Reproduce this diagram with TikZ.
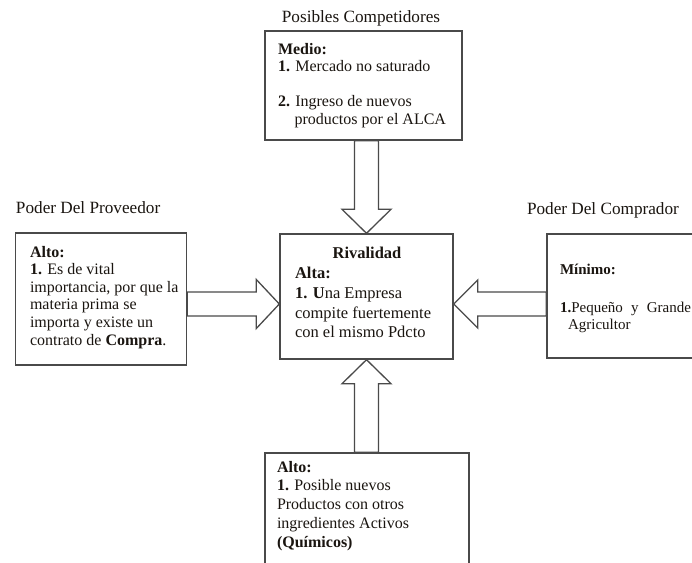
\documentclass[tikz,border=0pt]{standalone}
\usepackage{fontspec}
\setmainfont{Liberation Serif}
\usetikzlibrary{calc}
\definecolor{linec}{HTML}{4A4A4A}
\definecolor{txtc}{HTML}{1A1510}
\begin{document}
\begin{tikzpicture}[x=1pt,y=-1pt,
  box/.style={draw=linec, line width=1.4pt, fill=white, inner sep=0pt, rectangle},
  barrow/.style={draw=linec, line width=1.3pt, fill=white, line join=miter},
  txt/.style={inner sep=0pt, outer sep=0pt, anchor=north west, align=left, text=txtc,
    font=\fontsize{16}{17.5}\selectfont},
  ttl/.style={inner sep=0pt, outer sep=0pt, text=txtc, font=\fontsize{17.2}{18}\selectfont}]
\useasboundingbox (0,0) rectangle (692,562);
\fill[white] (0,0) rectangle (692,562);

% boxes
\node[box, minimum width=197pt, minimum height=109pt] (top) at (363.5,85.5) {};
\node[box, minimum width=173pt, minimum height=125pt] (riv) at (366.5,296.5) {};
\node[box, minimum width=171pt, minimum height=132pt] (left) at (101,299) {};
\node[box, minimum width=153pt, minimum height=124pt] (right) at (623.5,296) {};
\node[box, minimum width=204pt, minimum height=122pt] (bot) at (367,514) {};

% titles
\node[ttl, anchor=base] (ttop) at (361,22) {Posibles Competidores};
\node[ttl, anchor=base west] (tleft) at (16,213) {Poder Del Proveedor};
\node[ttl, anchor=base west] (tright) at (527,214) {Poder Del Comprador};

% texts
\node[txt] (xtop) at (278,43) {\textbf{Medio:}\\
  \textbf{1.} Mercado no saturado\\[17.5pt]
  \textbf{2.} Ingreso de nuevos\\
  \hspace*{16.5pt}productos por el ALCA};

\node[txt, font=\fontsize{16}{17.6}\selectfont] (xleft) at (30,246) {\textbf{Alto:}\\
  \textbf{1.} Es de vital\\
  importancia, por que la\\
  materia prima se\\
  importa y existe un\\
  contrato de \textbf{Compra}.};

\node[ttl, anchor=base, font=\bfseries\fontsize{16.5}{18}\selectfont] (xrivt) at (367,258) {Rivalidad};
\node[txt, font=\fontsize{16.5}{19.8}\selectfont] (xriv) at (295,267) {\textbf{Alta:}\\
  \textbf{1. U}na Empresa\\
  compite fuertemente\\
  con el mismo Pdcto};

\node[txt, font=\fontsize{15}{17}\selectfont] (xright) at (560,264) {\textbf{Mínimo:}\\[21pt]
  \makebox[131pt][s]{\textbf{1.}Pequeño y Grande}\\
  \hspace*{8pt}Agricultor};

\node[txt, font=\fontsize{16}{18.75}\selectfont] (xbot) at (277,461) {\textbf{Alto:}\\
  \textbf{1.} Posible nuevos\\
  Productos con otros\\
  ingredientes Activos\\
  \textbf{(Químicos)}};

% block arrows
% top -> riv
\coordinate (tA) at ($(riv.north)+(-12,0)$);
\coordinate (tB) at ($(riv.north)+(12,0)$);
\draw[barrow] (riv.north) -- ($(riv.north)+(-24.5,-24)$) -- ($(tA)+(0,-24)$)
  -- (tA |- top.south) -- (tB |- top.south) -- ($(tB)+(0,-24)$)
  -- ($(riv.north)+(24.5,-24)$) -- cycle;
% bot -> riv
\coordinate (bA) at ($(riv.south)+(-12,0)$);
\coordinate (bB) at ($(riv.south)+(12,0)$);
\draw[barrow] (riv.south) -- ($(riv.south)+(-24.5,24)$) -- ($(bA)+(0,24)$)
  -- (bA |- bot.north) -- (bB |- bot.north) -- ($(bB)+(0,24)$)
  -- ($(riv.south)+(24.5,24)$) -- cycle;
% left -> riv
\coordinate (lt) at ($(riv.west)+(0,7.5)$);
\coordinate (lA) at ($(lt)+(0,-12)$);
\coordinate (lB) at ($(lt)+(0,12)$);
\draw[barrow] (lt) -- ($(lt)+(-23,-24.5)$) -- ($(lA)+(-23,0)$)
  -- (left.east |- lA) -- (left.east |- lB) -- ($(lB)+(-23,0)$)
  -- ($(lt)+(-23,24.5)$) -- cycle;
% right -> riv
\coordinate (rt) at ($(riv.east)+(0,7.5)$);
\coordinate (rA) at ($(rt)+(0,-12)$);
\coordinate (rB) at ($(rt)+(0,12)$);
\draw[barrow] (rt) -- ($(rt)+(24,-24)$) -- ($(rA)+(24,0)$)
  -- (right.west |- rA) -- (right.west |- rB) -- ($(rB)+(24,0)$)
  -- ($(rt)+(24,24)$) -- cycle;
\end{tikzpicture}
\end{document}
